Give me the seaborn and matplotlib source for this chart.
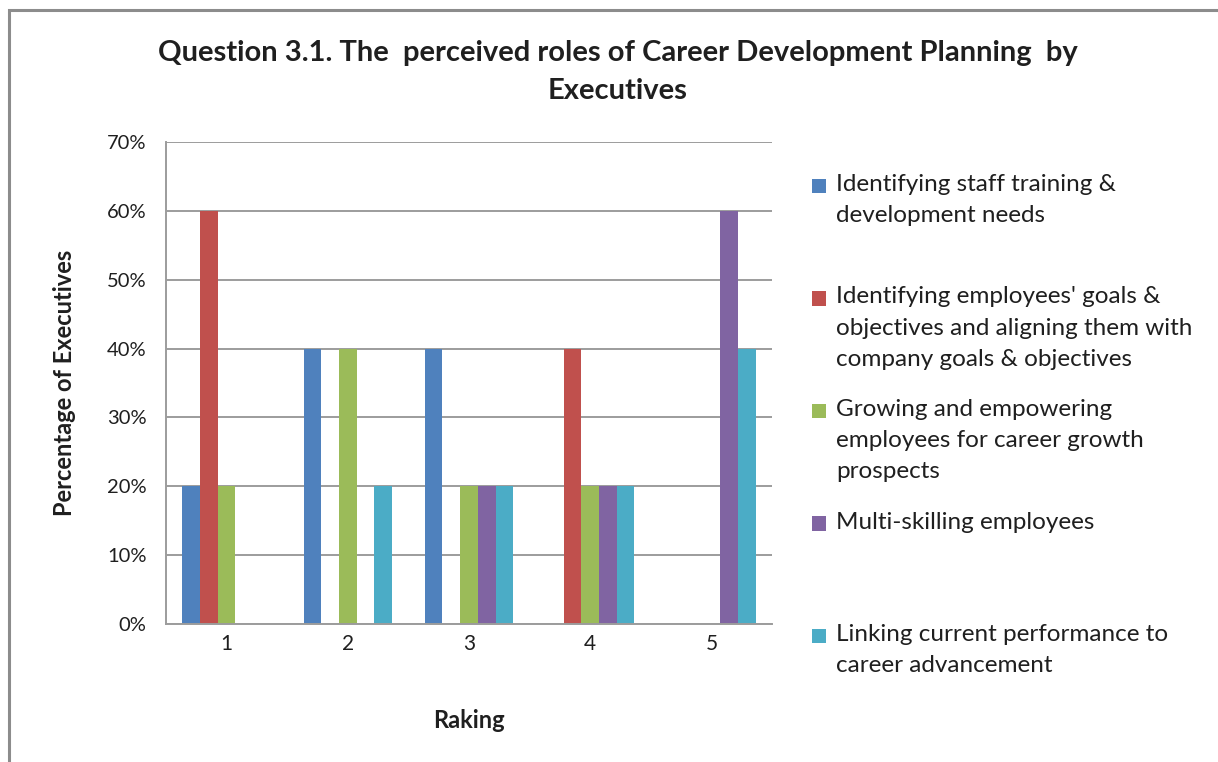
"""Excel-style grouped bars: perceived roles of Career Development Planning by Executives."""
import matplotlib

matplotlib.use("Agg")

import matplotlib.pyplot as plt
import pandas as pd
import seaborn as sns
from matplotlib.legend_handler import HandlerPatch
from matplotlib.patches import Patch, Rectangle

# --- data ---
rankings = ["1", "2", "3", "4", "5"]
roles = [
    "Identifying staff training &\ndevelopment needs",
    "Identifying employees' goals &\nobjectives and aligning them with\ncompany goals & objectives",
    "Growing and empowering\nemployees for career growth\nprospects",
    "Multi-skilling employees",
    "Linking current performance to\ncareer advancement",
]
staff_training = [20, 40, 40, 0, 0]
employee_goals = [60, 0, 0, 40, 0]
growing_empowering = [20, 40, 20, 20, 0]
multi_skilling = [0, 0, 20, 20, 60]
linking_performance = [0, 20, 20, 20, 40]
colors = ["#4F81BD", "#C0504D", "#9BBB59", "#8064A2", "#4BACC6"]
y_ticks = [0, 10, 20, 30, 40, 50, 60, 70]

series = [staff_training, employee_goals, growing_empowering, multi_skilling, linking_performance]
df = pd.DataFrame(
    [(r, role, vals[i]) for role, vals in zip(roles, series) for i, r in enumerate(rankings)],
    columns=["Raking", "Role", "Value"],
)

sns.set_style("white")
plt.rcParams["font.family"] = ["Lato", "DejaVu Sans"]

W, H = 1218, 762
fig = plt.figure(figsize=(W / 100, H / 100), dpi=100)
ax = fig.add_axes([166 / W, 1 - 624 / H, (772 - 166) / W, (624 - 142) / H])

sns.barplot(
    data=df, x="Raking", y="Value", hue="Role", order=rankings, hue_order=roles,
    palette=colors, width=0.73, gap=0, saturation=1, linewidth=0, legend=False, ax=ax,
)

grey = "#9c9c9c"
text_col = "#1f1f1f"
ax.set_ylim(0, 70)
ax.set_xlim(-0.5, len(rankings) - 0.5)
ax.set_yticks(y_ticks)
ax.set_yticklabels([f"{v}%" for v in y_ticks])
ax.yaxis.grid(True, color=grey, lw=1.4)
ax.set_axisbelow(True)
for side in ("top", "right"):
    ax.spines[side].set_visible(False)
for side in ("left", "bottom"):
    ax.spines[side].set_color(grey)
    ax.spines[side].set_linewidth(1.4)
ax.tick_params(axis="y", length=7, width=1.4, color=grey, labelsize=14.5, pad=7, labelcolor=text_col)
ax.tick_params(axis="x", which="major", length=0, labelsize=15, pad=7, labelcolor=text_col)
ax.set_xticks([i - 0.5 for i in range(len(rankings) + 1)], minor=True)
ax.tick_params(axis="x", which="minor", length=8, width=1.4, color=grey)

ax.set_xlabel("Raking", fontsize=17, fontweight="bold", color=text_col)
ax.set_ylabel("Percentage of Executives", fontsize=17, fontweight="bold", color=text_col)
ax.xaxis.set_label_coords(0.5, -0.176)
ax.yaxis.set_label_coords(-0.148, 0.5)

fig.text(
    618 / W, 1 - 72 / H,
    "Question 3.1. The  perceived roles of Career Development Planning  by\nExecutives",
    ha="center", va="center", fontsize=21, fontweight="bold", linespacing=1.55, color=text_col,
)


class TopSquare(HandlerPatch):
    """Put the legend swatch next to the first line of a 3-line label."""

    def create_artists(self, legend, orig_handle, xdescent, ydescent, width, height, fontsize, trans):
        size = 10.5
        shift = 1.27 * fontsize
        p = Rectangle((-xdescent, -ydescent + shift), size, size,
                      facecolor=orig_handle.get_facecolor(), edgecolor="none", transform=trans)
        return [p]


handles = [Patch(facecolor=c) for c in colors]
labels = [r + "\n " * (2 - r.count("\n")) for r in roles]
leg = fig.legend(
    handles, labels, loc="upper left", bbox_to_anchor=(790 / W, 1 - 152 / H),
    frameon=False, fontsize=17.5, handlelength=0.6, handletextpad=0.4,
    labelspacing=1.2, handler_map={Patch: TopSquare()},
)
for t in leg.get_texts():
    t.set_linespacing(1.6)
    t.set_color(text_col)

fig.add_artist(Rectangle((9 / W, -0.05), 1.2, 1 - 10 / H + 0.05, transform=fig.transFigure,
                         fill=False, edgecolor="#8c8c8c", lw=2.2))

fig.savefig("out.png", dpi=100)
plt.close(fig)
